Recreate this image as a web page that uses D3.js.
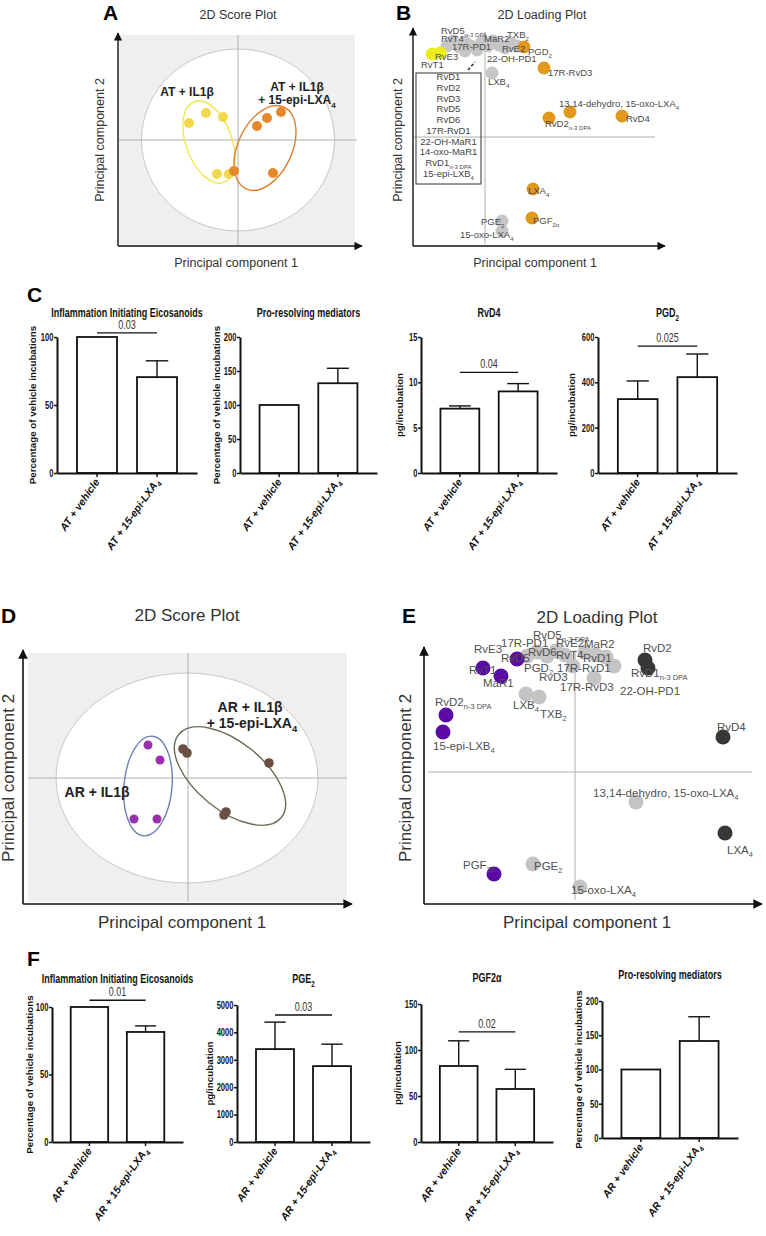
<!DOCTYPE html>
<html><head><meta charset="utf-8">
<script src="https://cdn.jsdelivr.net/npm/d3@7"></script>
<style>body{margin:0;background:#fff}svg{display:block}</style>
</head><body>
<script>
// ================= DATA =================
// Panel A – 2D score plot (PC1, PC2)
const scoreA_ctrl  = [[-0.98,0.34],[-0.64,0.54],[-0.30,0.46],[-0.42,-0.68],[-0.18,-0.68]];
const scoreA_treat = [[-0.08,-0.62],[0.38,0.28],[0.58,0.44],[0.86,0.56],[0.70,-0.66]];
const scoreA_ellipses = [
  {cx:-0.58, cy:-0.04, rx:0.46, ry:0.86, angle:-20, group:0},
  {cx:0.54,  cy:-0.16, rx:0.54, ry:0.90, angle:25,  group:1}];
const scoreA_labels = [["AT + IL1β",-1.02,0.88],["AT + IL1β",1.18,0.98],["+ 15-epi-LXA_4",1.18,0.72]];

// Panel B – 2D loading plot
const loadB_gray = [[-0.152,0.364],[-0.128,0.384],[-0.104,0.36],[-0.08,0.38],[-0.08,0.344],[-0.056,0.364],
  [-0.032,0.348],[-0.012,0.38],[0.012,0.364],[0.032,0.384],[0.056,0.368],[0.08,0.356],[0.104,0.376],
  [0.128,0.364],[0.028,0.256],[0.068,-0.336],[0.068,-0.376]];
const loadB_yellow = [[-0.212,0.332],[-0.18,0.336]];
const loadB_orange = [[0.156,0.36],[0.236,0.276],[0.34,0.10],[0.256,0.076],[0.548,0.084],[0.192,-0.208],[0.188,-0.324]];
const loadB_labels = [
  ["RvD5_n-3 DPA",-0.176,0.412],["RvT4",-0.176,0.38],["17R-PD1",-0.132,0.348],["MaR2",-0.004,0.38],
  ["TXB_2",0.088,0.396],["RvE2",0.068,0.34],["PGD_2",0.172,0.328],["22-OH-PD1",0.008,0.30],
  ["RvE3",-0.20,0.308],["RvT1",-0.256,0.276],["17R-RvD3",0.252,0.244],["LXB_4",0.012,0.208],
  ["13,14-dehydro, 15-oxo-LXA_4",0.296,0.12],["RvD2_n-3 DPA",0.24,0.04],["RvD4",0.564,0.06],
  ["LXA_4",0.172,-0.228],["PGF_2α",0.192,-0.348],["PGE_2",-0.016,-0.352],["15-oxo-LXA_4",-0.10,-0.404]];
const loadB_boxList = ["RvD1","RvD2","RvD3","RvD5","RvD6","17R-RvD1","22-OH-MaR1","14-oxo-MaR1","RvD1_n-3 DPA","15-epi-LXB_4"];

// Panel C – bar charts
const barC_categories = ["AT + vehicle","AT + 15-epi-LXA_4"];
const barC_titles  = ["Inflammation Initiating Eicosanoids","Pro-resolving mediators","RvD4","PGD_2"];
const barC_ylabels = ["Percentage of vehicle incubations","Percentage of vehicle incubations","pg/incubation","pg/incubation"];
const barC_means   = [[100,70.5],[100,132],[7.1,9.0],[326,423]];
const barC_errors  = [[0,12],[0,22],[0.3,0.86],[80,102]];
const barC_yMax    = [100,200,15,600];
const barC_ticks   = [[0,50,100],[0,50,100,150,200],[0,5,10,15],[0,200,400,600]];
const barC_pvalues = ["0.03",null,"0.04","0.025"];
const barC_pLevel  = [103,null,11.1,560];

// Panel D – 2D score plot
const scoreD_ctrl  = [[-0.40,0.33],[-0.28,0.18],[-0.54,-0.41],[-0.31,-0.41]];
const scoreD_treat = [[-0.05,0.29],[-0.01,0.25],[0.81,0.15],[0.38,-0.34],[0.36,-0.37]];
const scoreD_ellipses = [
  {cx:-0.40, cy:-0.08, rx:0.24, ry:0.50, angle:5,  group:0},
  {cx:0.42,  cy:0.02,  rx:0.66, ry:0.34, angle:39, group:1}];
const scoreD_labels = [["AR + IL1β",-0.91,-0.19],["AR + IL1β",0.62,0.66],["+ 15-epi-LXA_4",0.64,0.50]];

// Panel E – 2D loading plot
const loadE_gray = [[-0.24,0.58],[-0.19,0.60],[-0.14,0.58],[-0.095,0.605],[-0.05,0.585],[-0.01,0.53],
  [0.05,0.60],[0.105,0.585],[0.155,0.575],[0.195,0.53],[0.095,0.47],[-0.245,0.39],[-0.18,0.375],
  [0.305,-0.15],[-0.21,-0.46],[0.025,-0.575]];
const loadE_purple = [[-0.46,0.52],[-0.37,0.48],[-0.29,0.565],[-0.645,0.285],[-0.66,0.20],[-0.405,-0.51]];
const loadE_dark = [[0.35,0.56],[0.365,0.52],[0.74,0.175],[0.75,-0.305]];
const loadE_labels = [
  ["RvD5_n-3 DPA",-0.21,0.665],["17R-PD1",-0.37,0.625],["RvE2",-0.095,0.625],["MaR2",0.045,0.62],
  ["RvD2",0.34,0.60],["RvE3",-0.505,0.595],["RvD6",-0.235,0.58],["RvD5",-0.37,0.55],["RvT4",-0.095,0.565],
  ["RvD1",0.04,0.55],["RvT1",-0.53,0.49],["PGD_2",-0.255,0.50],["17R-RvD1",-0.09,0.50],
  ["RvD1_n-3 DPA",0.28,0.475],["MaR1",-0.46,0.425],["RvD3",-0.18,0.455],["17R-RvD3",-0.075,0.405],
  ["22-OH-PD1",0.225,0.385],["RvD2_n-3 DPA",-0.70,0.33],["LXB_4",-0.31,0.315],["TXB_2",-0.175,0.27],
  ["RvD4",0.71,0.205],["15-epi-LXB_4",-0.71,0.11],["13,14-dehydro, 15-oxo-LXA_4",0.09,-0.125],
  ["LXA_4",0.76,-0.41],["PGF_2α",-0.56,-0.485],["PGE_2",-0.205,-0.49],["15-oxo-LXA_4",-0.02,-0.61]];

// Panel F – bar charts
const barF_categories = ["AR + vehicle","AR + 15-epi-LXA_4"];
const barF_titles  = ["Inflammation Initiating Eicosanoids","PGE_2","PGF2α","Pro-resolving mediators"];
const barF_ylabels = ["Percentage of vehicle incubations","pg/incubation","pg/incubation","Percentage of vehicle incubations"];
const barF_means   = [[100,81.5],[3390,2770],[82.6,57.6],[100,141.6]];
const barF_errors  = [[0,4.5],[985,800],[27.4,21.4],[0,35.4]];
const barF_yMax    = [100,5000,150,200];
const barF_ticks   = [[0,50,100],[0,1000,2000,3000,4000,5000],[0,50,100,150],[0,50,100,150,200]];
const barF_pvalues = ["0.01","0.03","0.02",null];
const barF_pLevel  = [105,4635,119.6,null];

// ================= LAYOUT / STYLE =================
const FM = "'Liberation Sans', Arial, Helvetica, sans-serif";
const NARROW = 0.72;
const svg = d3.select("body").append("svg").attr("width",766).attr("height",1236).style("font-family",FM);
const defs = svg.append("defs");
defs.append("marker").attr("id","arr").attr("viewBox","0 0 10 10").attr("refX",9).attr("refY",5)
  .attr("markerWidth",6).attr("markerHeight",6).attr("orient","auto")
  .append("path").attr("d","M0,0L10,5L0,10z").attr("fill","#111");

function addText(g, str, x, y, size, subSize, anchor){
  const t = g.append("text").attr("x",x).attr("y",y).attr("font-size",size).attr("text-anchor",anchor||"start");
  const p = str.split("_");
  t.append("tspan").text(p[0]);
  if (p.length>1) t.append("tspan").attr("font-size",subSize).attr("dy",size*0.3).text(p[1]);
  return t;
}
function narrowText(g, str, x, y, size, subSize, anchor){
  const gg = g.append("g").attr("transform",`translate(${x},${y}) scale(${NARROW},1)`);
  return addText(gg,str,0,0,size,subSize,anchor);
}
function letter(l,x,y){ svg.append("text").attr("x",x).attr("y",y).attr("font-size",21).attr("font-weight","bold").attr("fill","#000").text(l); }

function pcaFrame(g, x, y, o){
  const [x0,x1] = x.range(), [yb,yt] = y.range();
  if (o.bg) {
    g.append("rect").attr("x",o.bg[0]).attr("y",o.bg[1]).attr("width",o.bg[2]-o.bg[0]).attr("height",o.bg[3]-o.bg[1]).attr("fill","#efefef");
  }
  if (o.circle) {
    const c=o.circle;
    g.append("ellipse").attr("cx",x(c.cx)).attr("cy",y(c.cy)).attr("rx",Math.abs(x(c.rx)-x(0))).attr("ry",Math.abs(y(c.ry)-y(0)))
      .attr("fill","#fff").attr("stroke","#c8c8c8").attr("stroke-width",1);
  }
  g.append("line").attr("x1",o.hGrid[0]).attr("x2",o.hGrid[1]).attr("y1",y(0)).attr("y2",y(0)).attr("stroke","#b0b0b0").attr("stroke-width",1);
  g.append("line").attr("x1",x(0)).attr("x2",x(0)).attr("y1",o.vGrid[0]).attr("y2",o.vGrid[1]).attr("stroke","#b0b0b0").attr("stroke-width",1);
  g.append("line").attr("x1",x0).attr("y1",yb).attr("x2",x0).attr("y2",yt).attr("stroke","#111").attr("stroke-width",o.aw).attr("marker-end","url(#arr)");
  g.append("line").attr("x1",x0).attr("y1",yb).attr("x2",x1).attr("y2",yb).attr("stroke","#111").attr("stroke-width",o.aw).attr("marker-end","url(#arr)");
  g.append("text").attr("x",o.xl[0]).attr("y",o.xl[1]).attr("text-anchor","middle").attr("font-size",o.fs).attr("fill","#333").text("Principal component 1");
  g.append("text").attr("transform",`translate(${o.yl[0]},${o.yl[1]}) rotate(-90)`).attr("text-anchor","middle").attr("dominant-baseline","middle")
    .attr("font-size",o.fs).attr("fill","#333").text("Principal component 2");
  g.append("text").attr("x",o.title[0]).attr("y",o.title[1]).attr("text-anchor","middle").attr("font-size",o.fs).attr("fill","#333").text(o.title[2]);
}
function ellipses(g,x,y,list,colors,w){
  g.selectAll("ellipse.grp").data(list).join("ellipse").attr("class","grp")
    .attr("transform",d=>`translate(${x(d.cx)},${y(d.cy)}) rotate(${d.angle})`)
    .attr("rx",d=>x(d.rx)-x(0)).attr("ry",d=>y(0)-y(d.ry))
    .attr("fill","none").attr("stroke",d=>colors[d.group]).attr("stroke-width",w);
}
function dots(g,x,y,pts,r,color){
  g.append("g").selectAll("circle").data(pts).join("circle").attr("cx",d=>x(d[0])).attr("cy",d=>y(d[1])).attr("r",r).attr("fill",color);
}

// ---------- Panel A ----------
letter("A",103,20);
{
  const g = svg.append("g");
  const x = d3.scaleLinear().domain([-2.4,2.48]).range([118,362]);
  const y = d3.scaleLinear().domain([-2.12,2.14]).range([246,33]);
  pcaFrame(g,x,y,{bg:[119,35,355,245],circle:{cx:0,cy:0,rx:1.93,ry:1.82},hGrid:[119,357],vGrid:[35,245],aw:1.4,
    xl:[236,267],yl:[101,140],fs:12.5,title:[238,19,"2D Score Plot"]});
  ellipses(g,x,y,scoreA_ellipses,["#f2e64a","#e07f2c"],1.4);
  dots(g,x,y,scoreA_ctrl,5,"#f2d84c");
  dots(g,x,y,scoreA_treat,5,"#e6882a");
  scoreA_labels.forEach(l=>addText(g,l[0],x(l[1]),y(l[2]),12,8,"middle").attr("font-weight","bold").attr("fill","#222"));
}

// ---------- Panel B ----------
letter("B",396,20);
{
  const g = svg.append("g");
  const x = d3.scaleLinear().domain([-0.288,0.72]).range([413,665]);
  const y = d3.scaleLinear().domain([-0.436,0.436]).range([246,28]);
  pcaFrame(g,x,y,{hGrid:[413,655],vGrid:[32,244],aw:1.4,xl:[535,267],yl:[399,140],fs:12.5,title:[542,19,"2D Loading Plot"]});
  g.append("rect").attr("x",x(-0.276)).attr("y",y(0.256)).attr("width",x(-0.016)-x(-0.276)).attr("height",y(-0.188)-y(0.256))
    .attr("fill","none").attr("stroke","#333").attr("stroke-width",1);
  g.append("line").attr("x1",x(-0.068)).attr("y1",y(0.268)).attr("x2",x(-0.04)).attr("y2",y(0.30))
    .attr("stroke","#333").attr("stroke-width",1.5).attr("stroke-dasharray","3,2");
  const bx = (x(-0.276)+x(-0.016))/2;
  const ys = d3.scaleLinear().domain([0,loadB_boxList.length-1]).range([y(0.228),y(-0.16)]);
  loadB_boxList.forEach((t,i)=>addText(g,t,bx,ys(i),9.5,6,"middle").attr("fill","#444"));
  dots(g,x,y,loadB_gray,6.5,"#c6c6c6");
  dots(g,x,y,loadB_yellow,6.5,"#eded1e");
  dots(g,x,y,loadB_orange,6.5,"#e1981d");
  loadB_labels.forEach(l=>addText(g,l[0],x(l[1]),y(l[2]),9.5,6,"start").attr("fill","#4a4a4a"));
}

// ---------- Bar chart helper ----------
function barChart(L, d, cats){
  const g = svg.append("g");
  const x = d3.scaleBand().domain(cats).range([L.x0,L.x1]).paddingInner(1/3).paddingOuter(1/3);
  const y = d3.scaleLinear().domain([0,d.max]).range([L.yBase,L.yTop]);
  const rows = cats.map((c,i)=>({c, m:d.means[i], e:d.errs[i]}));
  const bw = x.bandwidth();
  const eb = g.append("g").selectAll("g").data(rows.filter(r=>r.e>0)).join("g");
  eb.append("line").attr("x1",r=>x(r.c)+bw/2).attr("x2",r=>x(r.c)+bw/2).attr("y1",r=>y(r.m)).attr("y2",r=>y(r.m+r.e)).attr("stroke","#111").attr("stroke-width",1.4);
  eb.append("line").attr("x1",r=>x(r.c)+bw/2-bw*0.28).attr("x2",r=>x(r.c)+bw/2+bw*0.28).attr("y1",r=>y(r.m+r.e)).attr("y2",r=>y(r.m+r.e)).attr("stroke","#111").attr("stroke-width",1.4);
  g.append("g").selectAll("rect").data(rows).join("rect").attr("x",r=>x(r.c)).attr("y",r=>y(r.m)).attr("width",bw).attr("height",r=>y(0)-y(r.m))
    .attr("fill","#fff").attr("stroke","#111").attr("stroke-width",1.8);
  const ya = g.append("g").attr("transform",`translate(${L.x0},0)`).call(d3.axisLeft(y).tickValues(d.ticks).tickSize(3).tickSizeOuter(0).tickFormat(d3.format("d")));
  const xa = g.append("g").attr("transform",`translate(0,${L.yBase})`).call(d3.axisBottom(x).tickSize(4).tickSizeOuter(0).tickFormat(""));
  [ya,xa].forEach(a=>{a.select(".domain").attr("stroke","#111").attr("stroke-width",2); a.selectAll(".tick line").attr("stroke","#111").attr("stroke-width",1.5);});
  ya.selectAll(".tick text").attr("font-weight","bold").attr("font-size",10.5).attr("fill","#111").attr("x",-5)
    .attr("transform",`scale(${NARROW},1)`);
  cats.forEach(c=>{
    const t = g.append("g").attr("transform",`translate(${x(c)+bw/2+3},${L.yBase+9}) rotate(-55)`);
    addText(t,c,0,0,10.5,7,"end").attr("font-weight","bold").attr("font-style","italic").attr("fill","#111");
  });
  narrowText(g,d.title,(L.x0+L.x1)/2,L.titleY,12.5,8.5,"middle").attr("font-weight","bold").attr("fill","#111");
  g.append("text").attr("transform",`translate(${L.ylabX},${(L.yTop+L.yBase)/2}) rotate(-90)`).attr("text-anchor","middle").attr("dominant-baseline","middle")
    .attr("font-size",9.8).attr("font-weight","bold").attr("fill","#111").text(d.ylabel);
  if (d.p){
    const xa1 = x(cats[0])+bw/2, xa2 = x(cats[1])+bw/2, yy = y(d.pLevel);
    g.append("line").attr("x1",xa1).attr("x2",xa2).attr("y1",yy).attr("y2",yy).attr("stroke","#111").attr("stroke-width",1.3);
    narrowText(g,d.p,(xa1+xa2)/2,yy-4,12.5,8,"middle").attr("fill","#333");
  }
}

// ---------- Panel C ----------
letter("C",27,302);
const layoutC = [
  {x0:57,x1:197,yTop:337,yBase:473,ylabX:33,titleY:317},
  {x0:240,x1:377,yTop:337,yBase:473,ylabX:217,titleY:317},
  {x0:421,x1:557,yTop:337,yBase:473,ylabX:400,titleY:317},
  {x0:598,x1:737,yTop:337,yBase:473,ylabX:572,titleY:317}];
layoutC.forEach((L,i)=>barChart(L,{title:barC_titles[i],ylabel:barC_ylabels[i],means:barC_means[i],errs:barC_errors[i],
  max:barC_yMax[i],ticks:barC_ticks[i],p:barC_pvalues[i],pLevel:barC_pLevel[i]},barC_categories));

// ---------- Panel D ----------
letter("D",1,623);
{
  const g = svg.append("g");
  const x = d3.scaleLinear().domain([-1.65,1.64]).range([23,352]);
  const y = d3.scaleLinear().domain([-1.26,1.28]).range([904,650]);
  pcaFrame(g,x,y,{bg:[28,653,347,902],circle:{cx:-0.01,cy:0,rx:1.31,ry:1.05},hGrid:[28,347],vGrid:[653,902],aw:1.6,
    xl:[182,928],yl:[10,778],fs:17,title:[187,621,"2D Score Plot"]});
  ellipses(g,x,y,scoreD_ellipses,["#6d82b8","#6e6a55"],1.4);
  dots(g,x,y,scoreD_ctrl,4.5,"#9a2fb0");
  dots(g,x,y,scoreD_treat,4.8,"#6b4f42");
  scoreD_labels.forEach(l=>addText(g,l[0],x(l[1]),y(l[2]),14,9.5,"middle").attr("font-weight","bold").attr("fill","#222"));
}

// ---------- Panel E ----------
letter("E",402,623);
{
  const g = svg.append("g");
  const x = d3.scaleLinear().domain([-0.755,0.935]).range([424,762]);
  const y = d3.scaleLinear().domain([-0.66,0.625]).range([904,647]);
  pcaFrame(g,x,y,{hGrid:[428,752],vGrid:[650,900],aw:1.6,xl:[587,928],yl:[407,778],fs:17,title:[597,623,"2D Loading Plot"]});
  dots(g,x,y,loadE_gray,7.5,"#c4c4c4");
  dots(g,x,y,loadE_purple,7.5,"#5c0aa6");
  dots(g,x,y,loadE_dark,7.5,"#373737");
  loadE_labels.forEach(l=>addText(g,l[0],x(l[1]),y(l[2]),11.5,7.5,"start").attr("fill","#505050"));
}

// ---------- Panel F ----------
letter("F",27,966);
const layoutF = [
  {x0:52,x1:183,yTop:1007,yBase:1142,ylabX:30,titleY:983},
  {x0:237,x1:370,yTop:1005,yBase:1142,ylabX:210,titleY:983},
  {x0:421,x1:553,yTop:1004,yBase:1142,ylabX:398,titleY:982},
  {x0:602,x1:738,yTop:1001,yBase:1138,ylabX:579,titleY:979}];
layoutF.forEach((L,i)=>barChart(L,{title:barF_titles[i],ylabel:barF_ylabels[i],means:barF_means[i],errs:barF_errors[i],
  max:barF_yMax[i],ticks:barF_ticks[i],p:barF_pvalues[i],pLevel:barF_pLevel[i]},barF_categories));
</script>
</body></html>
